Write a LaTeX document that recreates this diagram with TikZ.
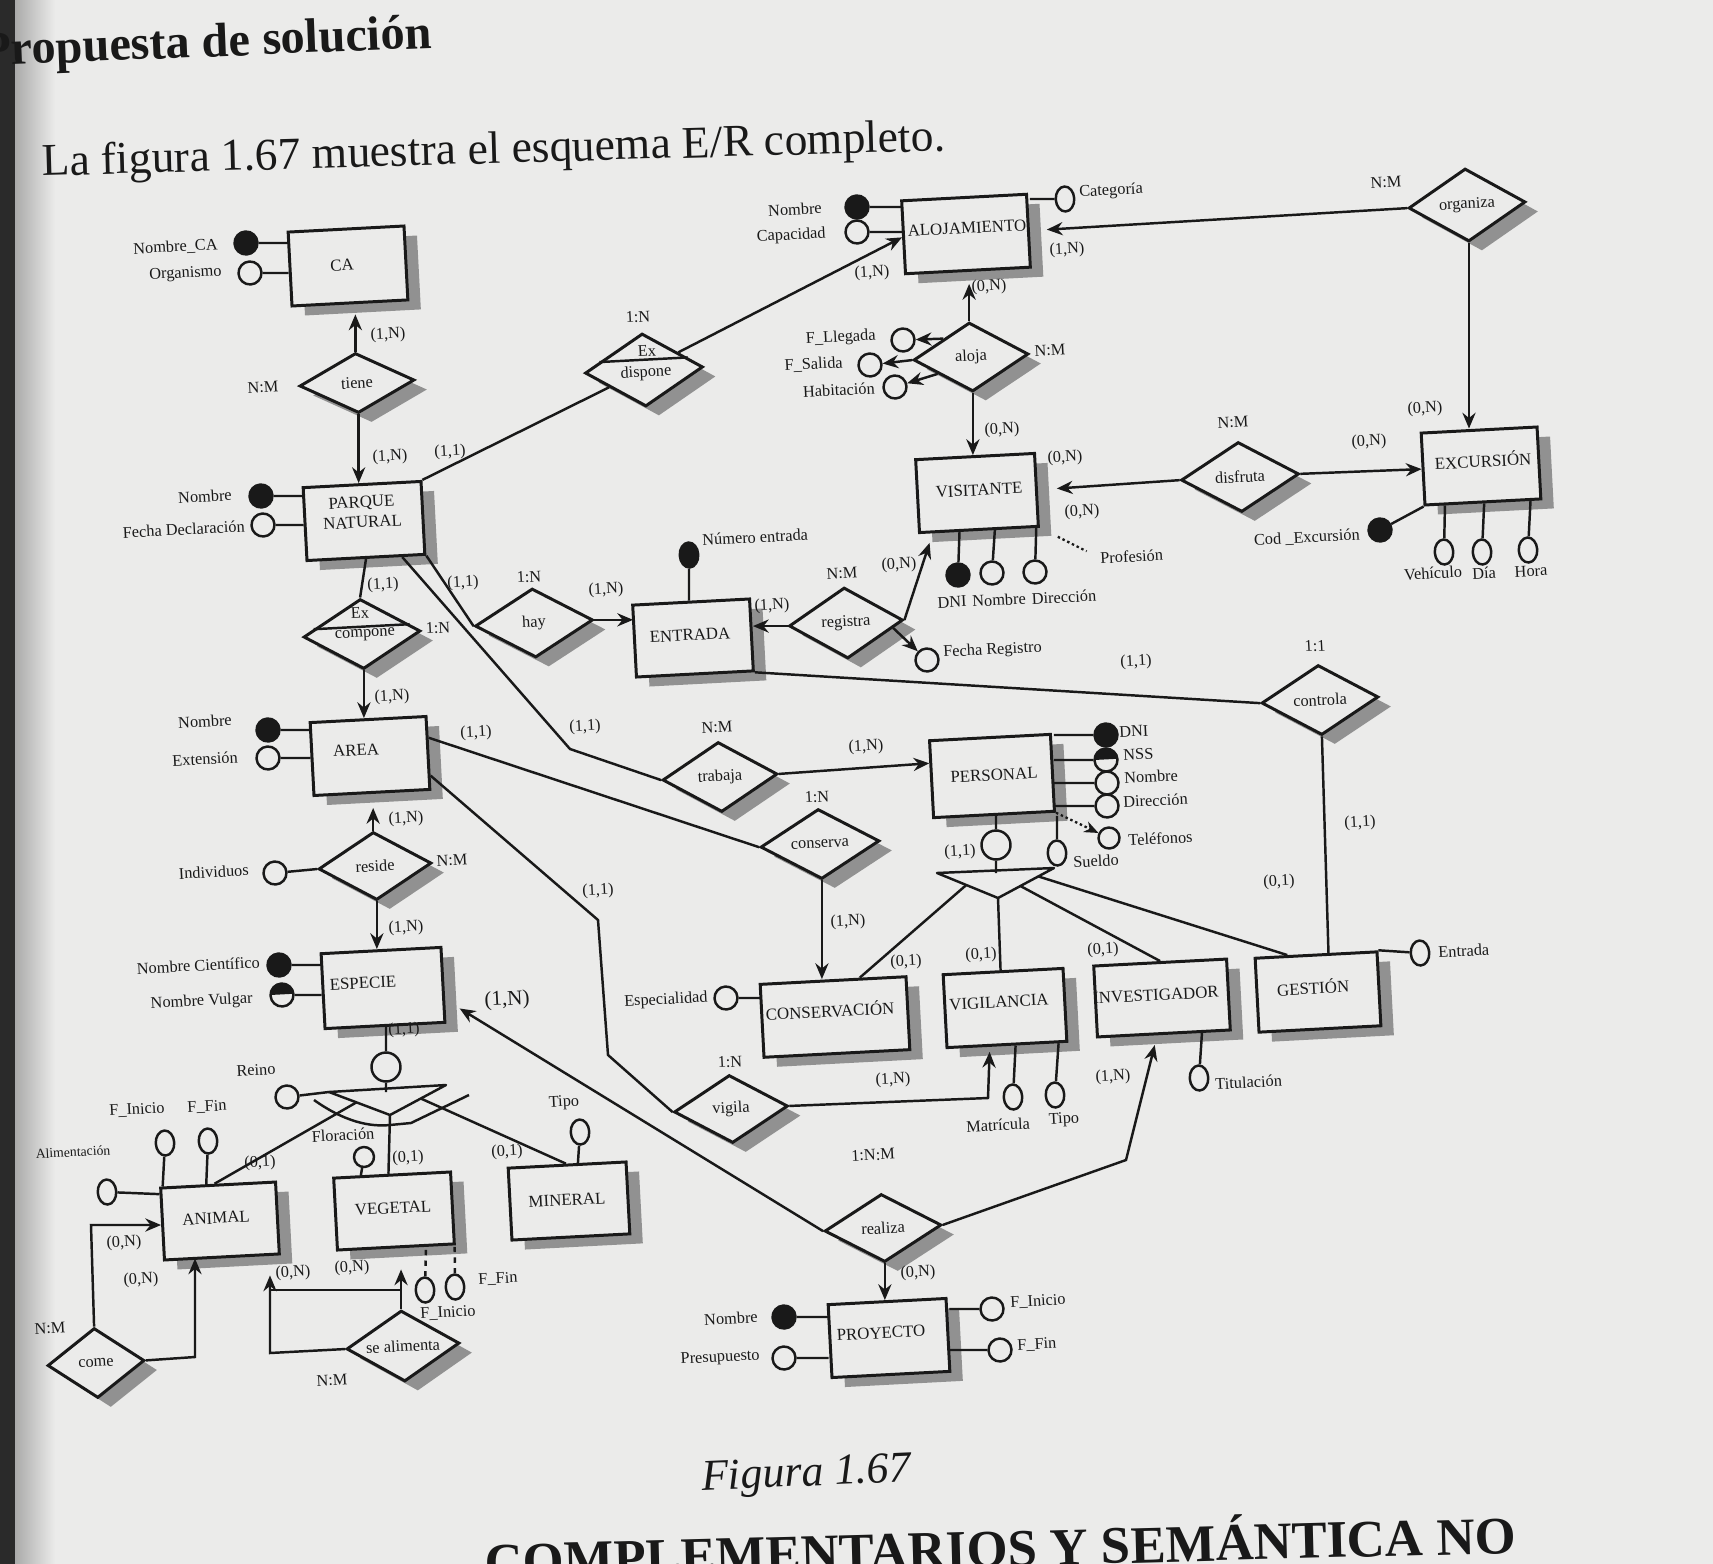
\documentclass[tikz,border=0pt]{standalone}
\usepackage{fontspec}
\setmainfont{Liberation Serif}
\usetikzlibrary{shapes.geometric,arrows.meta,calc,shadows}
\definecolor{paper}{RGB}{235,235,234}
\definecolor{ink}{RGB}{25,25,25}
\definecolor{shade}{RGB}{145,145,145}
\definecolor{spine}{RGB}{42,42,42}

\tikzset{
  tilt/.style={rotate=3},
  shd/.style={drop shadow={shadow xshift=0.26cm, shadow yshift=-0.19cm, fill=shade, opacity=1}},
  ent/.style={tilt, rectangle, draw=ink, line width=1.7pt, fill=paper, inner sep=0pt, shd},
  rel/.style={tilt, diamond, shape aspect=1.65, draw=ink, line width=1.7pt, fill=paper, inner sep=0pt, shd,
              font=\fontsize{9.3}{11}\selectfont, text=ink},
  txt/.style={tilt, inner sep=0pt, text=ink, font=\fontsize{9.3}{11}\selectfont},
  etxt/.style={txt, font=\fontsize{9.6}{11.5}\selectfont, align=center},
  att/.style={tilt, circle, draw=ink, fill=paper, line width=1.4pt, minimum size=0.46cm, inner sep=0pt},
  pkey/.style={att, fill=ink},
  halfkey/.style={att, path picture={\fill[ink] (path picture bounding box.west) rectangle (path picture bounding box.north east);}},
  oval/.style={tilt, ellipse, draw=ink, fill=paper, line width=1.4pt, minimum width=0.37cm, minimum height=0.5cm, inner sep=0pt},
  koval/.style={oval, fill=ink},
  isa/.style={att, minimum size=0.58cm},
  conn/.style={draw=ink, line width=1.4pt},
  arr/.style={conn, -{Stealth[length=9pt,width=7.5pt,inset=3pt]}},
  dotln/.style={draw=ink, line width=1.3pt, dash pattern=on 1.4pt off 1.6pt},
}

% entity box: name, x, y, width, height, text x, text y, text
\newcommand\entity[8]{%
  \pgfmathsetmacro\entW{#4*0.02}\pgfmathsetmacro\entH{#5*0.02}%
  \node[ent, minimum width=\entW cm, minimum height=\entH cm] (#1) at (#2,#3) {};
  \node[etxt] (#1-t) at (#6,#7) {#8};}
% relationship diamond: name, x, y, width, height, text
\newcommand\relship[6]{%
  \pgfmathsetmacro\entW{#4*0.02}\pgfmathsetmacro\entH{#5*0.02}%
  \node[rel, minimum width=\entW cm, minimum height=\entH cm] (#1) at (#2,#3) {#6};}

\begin{document}
\begin{tikzpicture}[x=0.02cm, y=-0.02cm]
\fill[paper] (0,0) rectangle (1713,1564);
\useasboundingbox (0,0) rectangle (1713,1564);
\clip (0,0) rectangle (1713,1564);

% binding edge of the page
\shade[left color=black!28!paper, right color=paper] (14,0) rectangle (55,1564);
\fill[spine] (0,0) rectangle (15,1564);

% page text
\node[anchor=base west, rotate=2.3, inner sep=0pt, text=ink, font=\fontsize{27.5}{30}\selectfont\bfseries] (title) at (-18,66) {Propuesta de solución};
\node[anchor=base west, rotate=1.6, inner sep=0pt, text=ink, font=\fontsize{25.9}{28}\selectfont] (intro) at (42,176) {La figura 1.67 muestra el esquema E/R completo.};
\node[anchor=base, rotate=2.5, inner sep=0pt, text=ink, font=\fontsize{25}{28}\selectfont\itshape] (caption) at (807,1486) {Figura 1.67};
\node[anchor=base west, rotate=1.5, inner sep=0pt, text=ink, font=\fontsize{30}{32}\selectfont\bfseries] (heading) at (485,1580) {COMPLEMENTARIOS Y SEMÁNTICA NO};

% ---------------- entities ----------------
\entity{ca}{348}{266}{116}{74}{342}{265}{CA}
\entity{aloj}{966}{234}{125}{73}{967}{228}{ALOJAMIENTO}
\entity{parque}{364}{521}{118}{73}{362}{512}{PARQUE\\NATURAL}
\entity{area}{370}{756}{116}{73}{356}{750}{AREA}
\entity{especie}{383}{988}{120}{75}{363}{983}{ESPECIE}
\entity{visit}{977}{493}{119}{73}{979}{490}{VISITANTE}
\entity{excur}{1481}{466}{116}{72}{1483}{460}{EXCURSIÓN}
\entity{entrada}{693}{638}{117}{72}{690}{635}{ENTRADA}
\entity{personal}{992}{776}{121}{77}{994}{775}{PERSONAL}
\entity{conserv}{835}{1017}{146}{73}{830}{1010}{CONSERVACIÓN}
\entity{vigil}{1005}{1008}{120}{73}{999}{1002}{VIGILANCIA}
\entity{invest}{1162}{998}{133}{71}{1156}{995}{INVESTIGADOR}
\entity{gestion}{1318}{992}{122}{74}{1313}{987}{GESTIÓN}
\entity{animal}{220}{1221}{115}{72}{216}{1218}{ANIMAL}
\entity{vegetal}{394}{1211}{117}{72}{393}{1208}{VEGETAL}
\entity{mineral}{569}{1201}{118}{72}{567}{1200}{MINERAL}
\entity{proyecto}{889}{1338}{118}{73}{881}{1333}{PROYECTO}

% ---------------- relationships ----------------
\relship{tiene}{357}{383}{115}{60}{tiene}
\relship{exd}{644}{370}{118}{73}{}
\relship{aloja}{971}{357}{115}{69}{aloja}
\relship{organiza}{1467}{205}{117}{73}{organiza}
\relship{disfruta}{1240}{477}{118}{70}{disfruta}
\relship{registra}{846}{623}{114}{71}{registra}
\relship{hay}{534}{623}{118}{69}{hay}
\relship{exc}{362}{634}{117}{70}{}
\relship{trabaja}{720}{777}{115}{70}{trabaja}
\relship{conserva}{820}{844}{119}{70}{conserva}
\relship{controla}{1320}{700}{117}{70}{controla}
\relship{reside}{375}{866}{113}{68}{reside}
\relship{vigila}{731}{1109}{114}{68}{vigila}
\relship{realiza}{883}{1228}{117}{68}{realiza}
\relship{come}{96}{1363}{97}{70}{come}
\relship{sealim}{403}{1346}{113}{71}{se alimenta}

% weak (existence) relationships
\draw[conn] ($(exd.west)!0.27!(exd.north)$) -- ($(exd.east)!0.27!(exd.north)$);
\node[txt] (exd-a) at (647,351) {Ex};
\node[txt] (exd-b) at (646,373) {dispone};
\draw[conn] ($(exc.west)!0.2!(exc.north)$) -- ($(exc.east)!0.2!(exc.north)$);
\node[txt] (exc-a) at (360,613) {Ex};
\node[txt] (exc-b) at (365,635) {compone};

% ---------------- attributes ----------------
\node[pkey] (a1) at (246,243) {};
\node[att] (a2) at (250,273) {};
\node[pkey] (a3) at (261,496) {};
\node[att] (a4) at (263,525) {};
\node[pkey] (a5) at (857,207) {};
\node[att] (a6) at (857,232) {};
\node[oval] (a7) at (1065,199) {};
\node[att] (a8) at (903,340) {};
\node[att] (a9) at (870,365) {};
\node[att] (a10) at (895,387) {};
\node[pkey] (a11) at (1380,530) {};
\node[oval] (a12) at (1444,552) {};
\node[oval] (a13) at (1482,552) {};
\node[oval] (a14) at (1528,550) {};
\node[pkey] (a15) at (958,575) {};
\node[att] (a16) at (992,573) {};
\node[att] (a17) at (1035,572) {};
\node[koval] (a18) at (689,555) {};
\node[att] (a19) at (927,660) {};
\node[pkey] (a20) at (268,730) {};
\node[att] (a21) at (268,758) {};
\node[pkey] (a22) at (1106,735) {};
\node[halfkey] (a23) at (1106,760) {};
\node[att] (a24) at (1107,783) {};
\node[att] (a25) at (1107,806) {};
\node[att, minimum size=0.42cm] (a26) at (1109,838) {};
\node[oval] (a27) at (1057,853) {};
\node[isa] (pisa) at (996,845) {};
\node[att] (a28) at (275,873) {};
\node[pkey] (a29) at (279,965) {};
\node[halfkey] (a30) at (282,995) {};
\node[isa] (eisa) at (386,1067) {};
\node[att] (a31) at (726,998) {};
\node[oval] (a32) at (1420,953) {};
\node[att] (a33) at (287,1097) {};
\node[oval] (a34) at (1013,1097) {};
\node[oval] (a35) at (1055,1095) {};
\node[oval] (a36) at (1199,1078) {};
\node[oval] (a37) at (580,1132) {};
\node[oval] (a38) at (165,1143) {};
\node[oval] (a39) at (208,1141) {};
\node[oval] (a40) at (107,1192) {};
\node[att, minimum size=0.4cm] (a41) at (364,1157) {};
\node[oval] (a42) at (425,1290) {};
\node[oval] (a43) at (455,1287) {};
\node[pkey] (a44) at (784,1317) {};
\node[att] (a45) at (784,1358) {};
\node[att] (a46) at (992,1309) {};
\node[att] (a47) at (1000,1350) {};

% attribute links
\draw[conn] (a1) -- (a1 -| ca.west);
\draw[conn] (a2) -- (a2 -| ca.west);
\draw[conn] (a3) -- (a3 -| parque.west);
\draw[conn] (a4) -- (a4 -| parque.west);
\draw[conn] (a5) -- (a5 -| aloj.west);
\draw[conn] (a6) -- (a6 -| aloj.west);
\draw[conn] (a7) -- (a7 -| aloj.east);
\draw[arr] ($(aloja.west)!0.55!(aloja.north)$) -- (a8);
\draw[arr] (aloja.west) -- (a9);
\draw[arr] ($(aloja.west)!0.42!(aloja.south)$) -- (a10);
\draw[conn] (a11) -- (excur.south west);
\draw[conn] (a12) -- ($(excur.south west)!0.18!(excur.south east)$);
\draw[conn] (a13) -- ($(excur.south west)!0.51!(excur.south east)$);
\draw[conn] (a14) -- ($(excur.south west)!0.9!(excur.south east)$);
\draw[conn] (a15) -- ($(visit.south west)!0.34!(visit.south east)$);
\draw[conn] (a16) -- ($(visit.south west)!0.63!(visit.south east)$);
\draw[conn] (a17) -- ($(visit.south west)!0.97!(visit.south east)$);
\draw[conn] (a18) -- (a18 |- entrada.north);
\draw[arr] ($(registra.east)!0.2!(registra.south)$) -- (a19);
\draw[conn] (a20) -- (a20 -| area.west);
\draw[conn] (a21) -- (a21 -| area.west);
\draw[conn] (a22) -- (a22 -| personal.east);
\draw[conn] (a23) -- (a23 -| personal.east);
\draw[conn] (a24) -- (a24 -| personal.east);
\draw[conn] (a25) -- (a25 -| personal.east);
\draw[dotln, -{Stealth[length=8pt,width=6.5pt,inset=2.5pt]}] (personal.south east) -- (a26);
\draw[conn] (a27) -- (a27 |- personal.south);
\draw[conn] (pisa) -- (pisa |- personal.south);
\draw[conn] (a28) -- (reside.west);
\draw[conn] (a29) -- (a29 -| especie.west);
\draw[conn] (a30) -- (a30 -| especie.west);
\draw[conn] (eisa) -- (eisa |- especie.south);
\draw[conn] (a31) -- (a31 -| conserv.west);
\draw[conn] (a32) -- (gestion.north east);
\draw[conn] (a34) -- ($(vigil.south west)!0.57!(vigil.south east)$);
\draw[conn] (a35) -- ($(vigil.south west)!0.92!(vigil.south east)$);
\draw[conn] (a36) -- ($(invest.south west)!0.78!(invest.south east)$);
\draw[conn] (a37) -- ($(mineral.north west)!0.59!(mineral.north east)$);
\draw[conn] (a38) -- ($(animal.north west)!0.03!(animal.north east)$);
\draw[conn] (a39) -- ($(animal.north west)!0.4!(animal.north east)$);
\draw[conn] (a40) -- ($(animal.north west)!0.1!(animal.south west)$);
\draw[conn] (a41) -- ($(vegetal.north west)!0.24!(vegetal.north east)$);
\draw[conn, dashed] (a42) -- ($(vegetal.south west)!0.75!(vegetal.south east)$);
\draw[conn, dashed] (a43) -- ($(vegetal.south west)!0.99!(vegetal.south east)$);
\draw[conn] (a44) -- (a44 -| proyecto.west);
\draw[conn] (a45) -- (a45 -| proyecto.west);
\draw[conn] (a46) -- (a46 -| proyecto.east);
\draw[conn] (a47) -- (a47 -| proyecto.east);

% ---------------- relationship links ----------------
\draw[arr, shorten >=0.2cm] (tiene.north) -- (tiene.north |- ca.south);
\draw[arr] (tiene.south) -- (tiene.south |- parque.north);
\draw[conn] (parque.north east) -- (exd);
\draw[arr] (exd) -- (aloj.west);
\draw[arr, shorten >=0.24cm] (aloja.north) -- (aloja.north |- aloj.south);
\draw[arr] (aloja.south) -- (aloja.south |- visit.north);
\draw[arr, shorten >=0.34cm] (organiza.west) -- (aloj.east);
\draw[arr] (organiza.south) -- (organiza.south |- excur.north);
\draw[arr] (disfruta.east) -- (excur.west);
\draw[arr, shorten >=0.38cm] (disfruta.west) -- (visit.east);
\draw[arr] (hay.east) -- (hay.east -| entrada.west);
\draw[conn] (parque.south east) -- (hay.west);
\draw[arr] (registra.west) -- (registra.west -| entrada.east);
\draw[arr, shorten >=0.2cm] (registra.east) -- ($(visit.south west)!0.12!(visit.south east)$);
\draw[conn] (entrada.south east) -- (controla.west);
\draw[conn] (controla.south) -- ($(gestion.north west)!0.6!(gestion.north east)$);
\draw[conn] (parque.south) -- (exc.north);
\draw[arr] (exc.south) -- (exc.south |- area.north);
\draw[arr] (trabaja.east) -- ($(personal.north west)!0.3!(personal.south west)$);
\coordinate (b1) at (570,749);
\draw[conn] ($(parque.south west)!0.8!(parque.south east)$) -- (b1) -- (trabaja.west);
\draw[conn] ($(area.north east)!0.3!(area.south east)$) -- (conserva.west);
\draw[arr] (conserva.south) -- (conserva.south |- conserv.north);
\coordinate (b2) at (598,920);
\coordinate (b3) at (608,1055);
\draw[conn] ($(area.north east)!0.8!(area.south east)$) -- (b2) -- (b3) -- (vigila.west);
\coordinate (b4) at (988,1098);
\draw[arr, shorten >=0.1cm] (vigila.east) -- (b4) -- ($(vigil.south west)!0.36!(vigil.south east)$);
\draw[arr, shorten >=0.34cm] (realiza.west) -- ($(especie.north east)!0.69!(especie.south east)$);
\coordinate (b5) at (1126,1160);
\draw[arr, shorten >=0.2cm] (realiza.east) -- (b5) -- ($(invest.south west)!0.45!(invest.south east)$);
\draw[arr] (realiza.south) -- (realiza.south |- proyecto.north);
\draw[arr, shorten >=0.28cm] (reside.north) -- (reside.north |- area.south);
\draw[arr] (reside.south) -- (reside.south |- especie.north);
\coordinate (c1) at (91,1225);
\coordinate (c2) at (195,1357);
\draw[arr] (come.north) -- (c1) -- (c1 -| animal.west);
\draw[arr] (come.east) -- (c2) -- (c2 |- animal.south);
\coordinate (s1) at (270,1353);
\coordinate (s2) at (269,1290);
\draw[arr, shorten >=0.34cm] (sealim.west) -- (s1) -- (s1 |- animal.south);
\draw[arr, shorten >=0.42cm] (sealim.north) -- (sealim.north |- vegetal.south);
\draw[conn] (s2) -- (s2 -| sealim.north);

% generalisation of PERSONAL
\coordinate (ptl) at (937,873);
\coordinate (ptr) at (1054,868);
\coordinate (pta) at (998,898);
\draw[conn, line join=round] (ptl) -- (ptr) -- (pta) -- cycle;
\draw[conn] (pisa) -- (pisa |- ptl);
\draw[conn] ($(ptl)!0.48!(pta)$) -- ($(conserv.north west)!0.68!(conserv.north east)$);
\draw[conn] (pta) -- ($(vigil.north west)!0.48!(vigil.north east)$);
\draw[conn] ($(ptr)!0.6!(pta)$) -- ($(invest.north west)!0.5!(invest.north east)$);
\draw[conn] ($(ptr)!0.28!(pta)$) -- ($(gestion.north west)!0.27!(gestion.north east)$);

% generalisation of ESPECIE
\coordinate (etl) at (329,1092);
\coordinate (etr) at (446,1085);
\coordinate (eta) at (390,1115);
\draw[conn, line join=round] (etl) -- (etr) -- (eta) -- cycle;
\draw[conn] (eisa) -- (eisa |- etl);
\draw[conn] (a33) -- (etl);
\draw[conn] ($(etl)!0.45!(eta)$) -- ($(animal.north west)!0.47!(animal.north east)$);
\draw[conn] (eta) -- ($(vegetal.north west)!0.47!(vegetal.north east)$);
\draw[conn] ($(etr)!0.45!(eta)$) -- ($(mineral.north west)!0.49!(mineral.north east)$);
\coordinate (arcL) at (314,1100);
\coordinate (arcR) at (469,1095);
\draw[conn] (arcL) .. controls (345,1122) and (370,1127) .. (390,1125) -- (411,1123) -- (arcR);

% ---------------- labels ----------------
\node[txt, anchor=east] (l1) at (218,245) {Nombre\_CA};
\node[txt, anchor=east] (l2) at (222,272) {Organismo};
\node[txt] (l3) at (388,335) {(1,N)};
\node[txt] (l4) at (263,387) {N:M};
\node[txt] (l5) at (390,457) {(1,N)};
\node[txt] (l6) at (450,452) {(1,1)};
\node[txt, anchor=east] (l7) at (232,495) {Nombre};
\node[txt, anchor=east] (l8) at (245,526) {Fecha Declaración};
\node[txt] (l9) at (638,317) {1:N};
\node[txt] (l10) at (872,273) {(1,N)};
\node[txt, anchor=east] (l11) at (822,208) {Nombre};
\node[txt, anchor=east] (l12) at (826,234) {Capacidad};
\node[txt, anchor=west] (l13) at (1079,193) {Categoría};
\node[txt] (l14) at (1067,250) {(1,N)};
\node[txt] (l15) at (989,287) {(0,N)};
\node[txt] (l16) at (1050,350) {N:M};
\node[txt, anchor=east] (l17) at (876,336) {F\_Llegada};
\node[txt, anchor=east] (l18) at (843,363) {F\_Salida};
\node[txt, anchor=east] (l19) at (875,388) {Habitación};
\node[txt] (l20) at (1002,430) {(0,N)};
\node[txt] (l21) at (1386,182) {N:M};
\node[txt] (l22) at (1425,409) {(0,N)};
\node[txt] (l23) at (1233,422) {N:M};
\node[txt] (l24) at (1369,442) {(0,N)};
\node[txt] (l25) at (1065,458) {(0,N)};
\node[txt] (l26) at (1082,512) {(0,N)};
\node[txt, anchor=east] (l27) at (1360,535) {Cod \_Excursión};
\node[txt] (l28) at (1433,573) {Vehículo};
\node[txt] (l29) at (1484,573) {Día};
\node[txt] (l30) at (1531,571) {Hora};
\node[txt] (l31) at (952,602) {DNI};
\node[txt] (l32) at (999,600) {Nombre};
\node[txt] (l33) at (1064,597) {Dirección};
\node[txt, anchor=west] (l34) at (1100,558) {Profesión};
\draw[dotln, shorten <=0.4cm, shorten >=0.3cm] (visit.south east) -- (l34.west);
\node[txt, anchor=west] (l35) at (702,540) {Número entrada};
\node[txt] (l36) at (842,573) {N:M};
\node[txt] (l37) at (899,565) {(0,N)};
\node[txt] (l38) at (772,606) {(1,N)};
\node[txt, anchor=west] (l39) at (943,653) {Fecha Registro};
\node[txt] (l40) at (529,577) {1:N};
\node[txt] (l41) at (606,590) {(1,N)};
\node[txt] (l42) at (463,583) {(1,1)};
\node[txt] (l43) at (383,585) {(1,1)};
\node[txt] (l44) at (438,628) {1:N};
\node[txt] (l45) at (392,697) {(1,N)};
\node[txt, anchor=east] (l46) at (232,720) {Nombre};
\node[txt, anchor=east] (l47) at (238,757) {Extensión};
\node[txt] (l48) at (476,733) {(1,1)};
\node[txt] (l49) at (585,727) {(1,1)};
\node[txt] (l50) at (717,727) {N:M};
\node[txt] (l51) at (866,747) {(1,N)};
\node[txt] (l52) at (817,797) {1:N};
\node[txt] (l53) at (1136,662) {(1,1)};
\node[txt] (l54) at (1315,646) {1:1};
\node[txt, anchor=west] (l55) at (1119,732) {DNI};
\node[txt, anchor=west] (l56) at (1123,755) {NSS};
\node[txt, anchor=west] (l57) at (1124,778) {Nombre};
\node[txt, anchor=west] (l58) at (1123,802) {Dirección};
\node[txt, anchor=west] (l59) at (1128,840) {Teléfonos};
\node[txt] (l60) at (960,852) {(1,1)};
\node[txt, anchor=west] (l61) at (1073,862) {Sueldo};
\node[txt] (l62) at (1360,823) {(1,1)};
\node[txt] (l63) at (1279,882) {(0,1)};
\node[txt] (l64) at (406,819) {(1,N)};
\node[txt] (l65) at (452,860) {N:M};
\node[txt, anchor=east] (l66) at (249,870) {Individuos};
\node[txt] (l67) at (406,928) {(1,N)};
\node[txt] (l68) at (598,891) {(1,1)};
\node[txt] (l69) at (848,922) {(1,N)};
\node[txt] (l70) at (906,962) {(0,1)};
\node[txt] (l71) at (981,955) {(0,1)};
\node[txt] (l72) at (1103,950) {(0,1)};
\node[txt, anchor=east] (l73) at (260,962) {Nombre Científico};
\node[txt, anchor=east] (l74) at (253,999) {Nombre Vulgar};
\node[txt, font=\fontsize{12}{14}\selectfont] (l75) at (507,1000) {(1,N)};
\node[txt] (l76) at (404,1030) {(1,1)};
\node[txt, anchor=east] (l77) at (708,998) {Especialidad};
\node[txt, anchor=west] (l78) at (1438,952) {Entrada};
\node[txt] (l79) at (256,1070) {Reino};
\node[txt] (l80) at (730,1062) {1:N};
\node[txt] (l81) at (893,1080) {(1,N)};
\node[txt, anchor=west] (l82) at (1215,1084) {Titulación};
\node[txt] (l83) at (1113,1077) {(1,N)};
\node[txt] (l84) at (998,1125) {Matrícula};
\node[txt] (l85) at (1064,1120) {Tipo};
\node[txt] (l86) at (564,1103) {Tipo};
\node[txt] (l87) at (137,1110) {F\_Inicio};
\node[txt] (l88) at (207,1107) {F\_Fin};
\node[txt] (l89) at (343,1135) {Floración};
\node[txt, font=\fontsize{7.8}{9}\selectfont] (l90) at (73,1152) {Alimentación};
\node[txt] (l91) at (260,1163) {(0,1)};
\node[txt] (l92) at (408,1158) {(0,1)};
\node[txt] (l93) at (507,1152) {(0,1)};
\node[txt] (l94) at (873,1155) {1:N:M};
\node[txt] (l95) at (124,1243) {(0,N)};
\node[txt] (l96) at (141,1280) {(0,N)};
\node[txt] (l97) at (293,1273) {(0,N)};
\node[txt] (l98) at (352,1268) {(0,N)};
\node[txt] (l99) at (498,1279) {F\_Fin};
\node[txt] (l100) at (448,1313) {F\_Inicio};
\node[txt] (l101) at (50,1328) {N:M};
\node[txt] (l102) at (332,1380) {N:M};
\node[txt] (l103) at (918,1273) {(0,N)};
\node[txt, anchor=east] (l104) at (758,1317) {Nombre};
\node[txt, anchor=east] (l105) at (760,1356) {Presupuesto};
\node[txt, anchor=west] (l106) at (1010,1303) {F\_Inicio};
\node[txt, anchor=west] (l107) at (1017,1346) {F\_Fin};
\end{tikzpicture}
\end{document}
